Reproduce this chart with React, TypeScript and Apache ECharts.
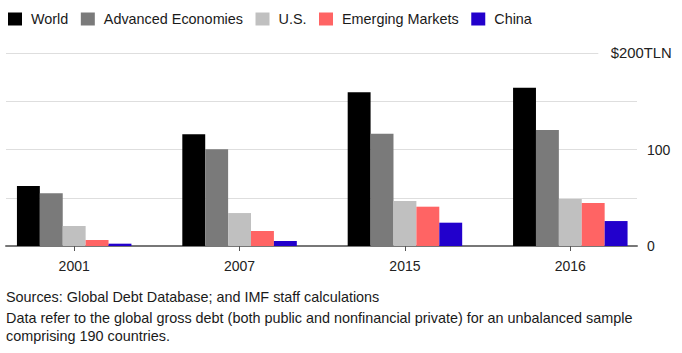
import React, { useEffect, useRef } from "react";
import * as echarts from "echarts";

const categories = ["2001", "2007", "2015", "2016"];
const seriesNames = ["World", "Advanced Economies", "U.S.", "Emerging Markets", "China"];
const world = [62.3, 116, 159.5, 164.3];
const advanced = [54.7, 100.3, 116.6, 120.4];
const us = [20.8, 34.2, 46.7, 48.8];
const emerging = [6.2, 15.6, 40.8, 44.6];
const china = [2.4, 5.2, 24.2, 25.9];
const seriesColors = ["#000000", "#7a7a7a", "#c0c0c0", "#ff6464", "#2200cc"];
const yTickLabels: Record<number, string> = { 0: "0", 100: "100" };
const topLabel = "$200TLN";
const sourceText = "Sources: Global Debt Database; and IMF staff calculations";
const noteLines = [
  "Data refer to the global gross debt (both public and nonfinancial private) for an unbalanced sample",
  "comprising 190 countries.",
];

const FONT = "'Liberation Sans', Arial, sans-serif";

export default function App() {
  const ref = useRef<HTMLDivElement>(null);
  useEffect(() => {
    if (!ref.current) return;
    const chart = echarts.init(ref.current, null, { renderer: "svg" });
    const values = [world, advanced, us, emerging, china];
    const option: any = {
      animation: false,
      backgroundColor: "#ffffff",
      textStyle: { fontFamily: FONT },
      legend: {
        left: 8,
        top: 12,
        padding: 0,
        icon: "rect",
        itemWidth: 14,
        itemHeight: 13,
        itemGap: 12.5,
        data: seriesNames,
        textStyle: { fontSize: 14.4, color: "#1a1a1a", fontFamily: FONT, padding: [0, 0, 0, 4] },
      },
      grid: [
        { left: -8.5, right: 29, top: 53.3, bottom: 107, outerBoundsMode: "none", containLabel: false },
        { left: 6, right: 45, top: 53.3, bottom: 107, outerBoundsMode: "none" },
        { left: 6, right: 83.7, top: 53.3, bottom: 107, outerBoundsMode: "none" },
      ],
      xAxis: [
        {
          type: "category",
          gridIndex: 0,
          data: categories,
          axisLine: { show: false },
          axisTick: { show: true, alignWithLabel: true, length: 5, lineStyle: { color: "#555", width: 1 } },
          axisLabel: { fontSize: 14, color: "#222", margin: 13, fontFamily: FONT },
          splitLine: { show: false },
        },
        {
          type: "value",
          gridIndex: 1,
          min: 0,
          max: 1,
          axisLine: { show: true, onZero: false, lineStyle: { color: "#777", width: 2 } },
          axisTick: { show: false },
          axisLabel: { show: false },
          splitLine: { show: false },
        },
        {
          type: "value",
          gridIndex: 2,
          min: 0,
          max: 1,
          show: false,
        },
      ],
      yAxis: [
        {
          type: "value",
          gridIndex: 0,
          min: 0,
          max: 200,
          interval: 50,
          show: false,
        },
        {
          type: "value",
          gridIndex: 1,
          min: 0,
          max: 200,
          interval: 50,
          position: "right",
          axisLine: { show: false },
          axisTick: { show: false },
          splitLine: { show: true, showMaxLine: false, showMinLine: false, lineStyle: { color: "#dedede", width: 1 } },
          axisLabel: {
            margin: 10,
            fontSize: 14,
            color: "#222",
            fontFamily: FONT,
            formatter: (v: number) => yTickLabels[v] ?? "",
          },
        },
        {
          type: "value",
          gridIndex: 2,
          min: 0,
          max: 200,
          interval: 200,
          position: "right",
          axisLine: { show: false },
          axisTick: { show: false },
          splitLine: { show: true, showMinLine: false, showMaxLine: true, lineStyle: { color: "#dedede", width: 1 } },
          axisLabel: {
            margin: 12.5,
            fontSize: 14.8,
            color: "#222",
            fontFamily: FONT,
            formatter: (v: number) => (v === 200 ? topLabel : ""),
          },
        },
      ],
      series: seriesNames.map((name, i) => ({
        name,
        type: "bar",
        xAxisIndex: 0,
        yAxisIndex: 0,
        data: values[i],
        barWidth: 22.9,
        barGap: "0%",
        itemStyle: { color: seriesColors[i] },
      })),
      graphic: [
        {
          type: "text",
          left: 6,
          top: 290,
          style: { text: sourceText, font: `14.4px ${FONT}`, fill: "#1a1a1a" },
        },
        {
          type: "text",
          left: 6,
          top: 309,
          style: { text: noteLines.join("\n"), font: `14.4px ${FONT}`, fill: "#1a1a1a", lineHeight: 18 },
        },
      ],
    };
    chart.setOption(option);
    return () => chart.dispose();
  }, []);
  return (
    <div
      ref={ref}
      style={{ position: "fixed", left: 0, top: 0, width: 682, height: 353 }}
    />
  );
}
